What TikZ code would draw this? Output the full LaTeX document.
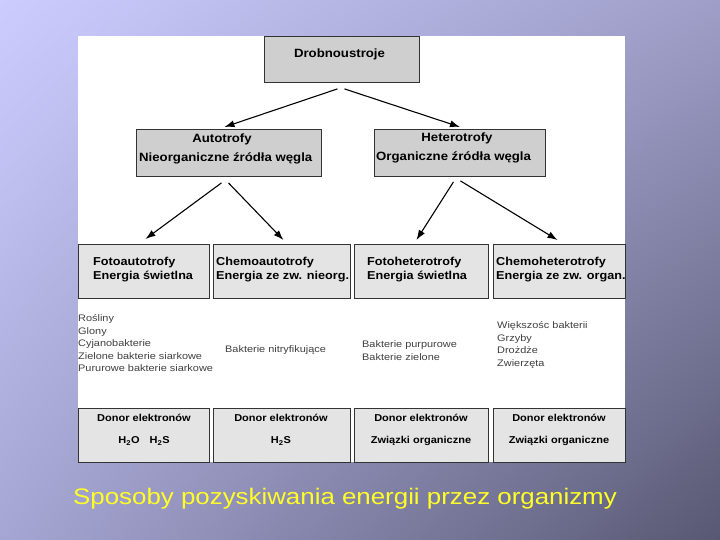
\documentclass[tikz,border=0pt]{standalone}
\usepackage{fontspec}
\setmainfont{Liberation Sans}[FakeStretch=1.15]
\newfontfamily\boxfont{Liberation Sans}[FakeStretch=1.1]
\usetikzlibrary{arrows.meta, shadings}
\definecolor{bgUL}{RGB}{204,204,255}
\definecolor{bgUR}{RGB}{158,158,200}
\definecolor{bgLL}{RGB}{166,166,212}
\definecolor{bgLR}{RGB}{88,88,115}
\definecolor{boxdark}{RGB}{207,207,207}
\definecolor{boxlight}{RGB}{228,228,228}
\definecolor{titleyellow}{RGB}{255,255,40}

\begin{document}
\begin{tikzpicture}[x=1pt,y=-1pt,
    box/.style={draw=black!80, line width=0.9pt, fill=boxlight, anchor=north west, inner sep=0pt},
    darkbox/.style={box, fill=boxdark},
    head/.style={font=\boxfont\bfseries\fontsize{12}{14}\selectfont, inner sep=0pt},
    kind/.style={font=\boxfont\bfseries\fontsize{11.5}{14}\selectfont, inner sep=0pt, anchor=west, align=left},
    donor/.style={font=\boxfont\bfseries\fontsize{10}{22}\selectfont, inner sep=0pt, align=center},
    list/.style={font=\fontsize{9.5}{12.5}\selectfont, text=black!75, inner sep=0pt, anchor=west, align=left},
    arr/.style={-{Latex[length=10pt,width=7pt]}, line width=1.1pt}]

    % background and white panel
    \useasboundingbox (0,0) rectangle (720,540);
    \shade[upper left=bgUL, upper right=bgUR, lower left=bgLL, lower right=bgLR] (0,0) rectangle (720,540);
    \fill[white] (78,36) rectangle (625,462);

    % top levels
    \node[darkbox, minimum width=155, minimum height=46] (drob) at (264,36) {};
    \node[head] (drobT) at (339.5,54) {Drobnoustroje};

    \node[darkbox, minimum width=185, minimum height=47] (auto) at (136,129) {};
    \node[head] (autoT) at (222,139) {Autotrofy};
    \node[head, anchor=west] (autoC) at (139,158) {Nieorganiczne źródła węgla};

    \node[darkbox, minimum width=171, minimum height=47] (hetero) at (374,129) {};
    \node[head] (heteroT) at (457,138) {Heterotrofy};
    \node[head, anchor=west] (heteroC) at (376,157) {Organiczne źródła węgla};

    % energy sources
    \node[box, minimum width=131, minimum height=54] (fotoA) at (78,244) {};
    \node[kind] (fotoAT) at (93,270) {Fotoautotrofy\\Energia świetlna};
    \node[box, minimum width=137, minimum height=54] (chemA) at (213,244) {};
    \node[kind] (chemAT) at (216,270) {Chemoautotrofy\\Energia ze zw. nieorg.};
    \node[box, minimum width=134, minimum height=54] (fotoH) at (354,244) {};
    \node[kind] (fotoHT) at (367,270) {Fotoheterotrofy\\Energia świetlna};
    \node[box, minimum width=132, minimum height=54] (chemH) at (493,244) {};
    \node[kind] (chemHT) at (496,270) {Chemoheterotrofy\\Energia ze zw. organ.};

    % examples
    \node[list] (fotoAL) at (78,343.5) {Rośliny\\Glony\\Cyjanobakterie\\Zielone bakterie siarkowe\\Pururowe bakterie siarkowe};
    \node[list] (chemAL) at (225,350) {Bakterie nitryfikujące};
    \node[list] (fotoHL) at (362,350.5) {Bakterie purpurowe\\Bakterie zielone};
    \node[list] (chemHL) at (497,345) {Większośc bakterii\\Grzyby\\Drożdże\\Zwierzęta};

    % electron donors
    \node[box, minimum width=131, minimum height=54] (donA) at (78,408) {};
    \node[donor] (donAT) at (144,430) {Donor elektronów\\H\textsubscript{2}O\quad H\textsubscript{2}S};
    \node[box, minimum width=137, minimum height=54] (donB) at (213,408) {};
    \node[donor] (donBT) at (281,430) {Donor elektronów\\H\textsubscript{2}S};
    \node[box, minimum width=134, minimum height=54] (donC) at (354,408) {};
    \node[donor] (donCT) at (421,430) {Donor elektronów\\Związki organiczne};
    \node[box, minimum width=132, minimum height=54] (donD) at (493,408) {};
    \node[donor] (donDT) at (559,430) {Donor elektronów\\Związki organiczne};

    % arrows
    \draw[arr] ([xshift=-4.5pt,yshift=-6pt]drob.south) -- ([xshift=-4.5pt,yshift=2pt]auto.north);
    \draw[arr] ([xshift=2.5pt,yshift=-6pt]drob.south) -- ([yshift=2pt]hetero.north);
    \draw[arr] ([xshift=-7.5pt,yshift=-6pt]auto.south) -- ([xshift=1.5pt,yshift=5pt]fotoA.north);
    \draw[arr] ([xshift=-0.5pt,yshift=-6pt]auto.south) -- ([xshift=1.5pt,yshift=4pt]chemA.north);
    \draw[arr] ([xshift=-6.5pt,yshift=-5pt]hetero.south) -- ([xshift=-5pt,yshift=4pt]fotoH.north);
    \draw[arr] ([xshift=0.5pt,yshift=-4pt]hetero.south) -- ([xshift=-2pt,yshift=4pt]chemH.north);

    % caption
    \node[font=\fontsize{22.5}{26}\selectfont, text=titleyellow, inner sep=0pt, anchor=west] (caption) at (73,499) {Sposoby pozyskiwania energii przez organizmy};
\end{tikzpicture}
\end{document}
